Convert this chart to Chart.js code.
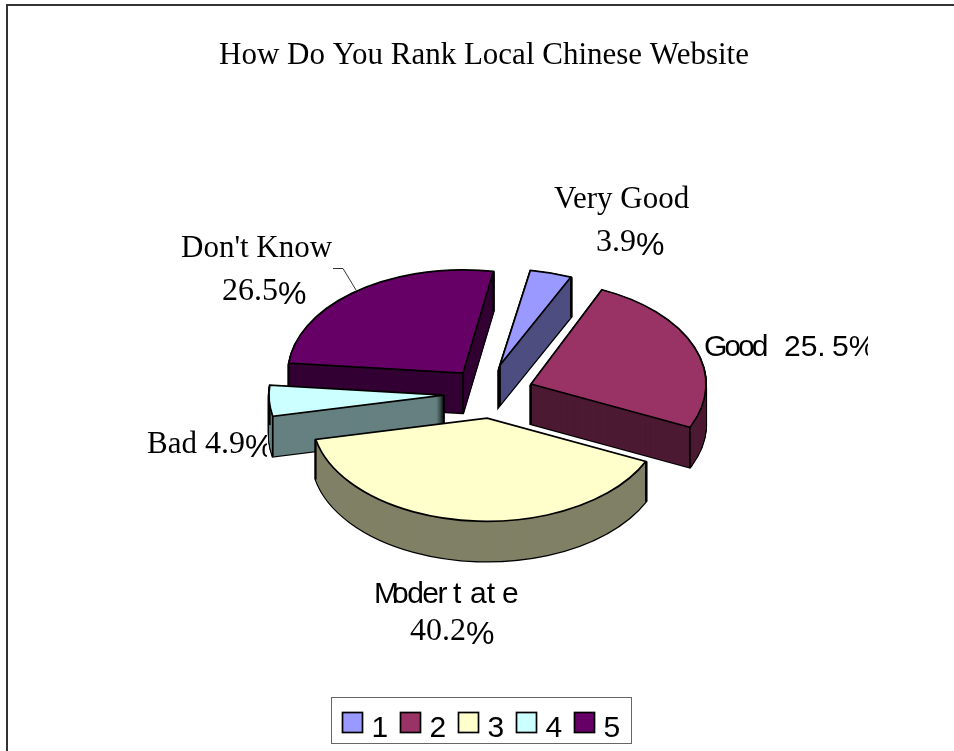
<!DOCTYPE html>
<html>
<head>
<meta charset="utf-8">
<style>
  html, body { margin: 0; padding: 0; background: #fff; }
  #chart-1 { display: block; }
</style>
<script src="https://cdn.jsdelivr.net/npm/chart.js@4/dist/chart.umd.min.js"></script>
</head>
<body>
<canvas id="chart-1" width="954" height="751"></canvas>
<script>
/************************ chart data *********************************/

const legendLabels = ["1", "2", "3", "4", "5"];
const shares = [3.9, 25.5, 40.2, 4.9, 26.5];
const topColors = ["#9999ff", "#993366", "#ffffcc", "#ccffff", "#660066"];
const wallColors = ["#4d4d80", "#4d1a33", "#808066", "#668080", "#330033"];
const chartTitle = "How Do You Rank Local Chinese Website";

/************************ 3D look of the pie *********************************/

const tilt = [0.55, 0.59, 0.59, 0.59, 0.59];
const DEPTH = 40;
const shift = [[16, -31], [47, -12], [3, 22], [-40, -1], [-21, -23]]; // exploded slices
const paintOrder = [0, 4, 1, 3, 2]; // back slices first

const SERIF = '"Liberation Serif", serif';
const SANS = '"Liberation Sans", sans-serif';

// slice labels, a few are spaced out by hand: [text, x, y, letter spacing]
const sliceLabels = [
  { font: SERIF, size: 31, value: [shares[0], 630, 251], parts: [["Very Good", 554, 208]] },
  { font: SANS, size: 30, clip: 868, parts: [["Good", 704, 356, -3], ["25.", 784, 356], ["5%", 832, 356]] },
  { font: SANS, size: 30, value: [shares[2], 452, 640],
    parts: [["M", 374, 603], ["oder", 392, 603, -1.5], ["t", 453, 603], ["at", 470, 603], ["e", 502, 603]] },
  { font: SERIF, size: 31, clip: 267, value: [shares[3], 239, 453], parts: [["Bad", 147, 453]] },
  { font: SERIF, size: 31, value: [shares[4], 264, 300], parts: [["Don't Know", 181, 257]] },
];

function slicePath(ctx, arc) {
  ctx.beginPath();
  ctx.moveTo(arc.x, arc.y);
  ctx.arc(arc.x, arc.y, arc.outerRadius, arc.startAngle, arc.endAngle);
  ctx.closePath();
}

// moves the drawing to the exploded, flattened slice
function placeSlice(ctx, arc, i, drop) {
  ctx.translate(arc.x + shift[i][0], arc.y + shift[i][1] + drop);
  ctx.scale(1, tilt[i]);
  ctx.translate(-arc.x, -arc.y);
}

function drawWall(ctx, arc, i) {
  // black silhouette first, the wall colour goes over it
  for (let d = DEPTH; d >= 1; d--) {
    ctx.save();
    placeSlice(ctx, arc, i, d);
    slicePath(ctx, arc);
    ctx.restore();
    ctx.lineWidth = 2.4;
    ctx.strokeStyle = "#000";
    ctx.stroke();
  }
  for (let d = DEPTH; d >= 0; d--) {
    ctx.save();
    placeSlice(ctx, arc, i, d);
    slicePath(ctx, arc);
    ctx.fillStyle = wallColors[i];
    ctx.fill();
    ctx.restore();
  }
  // upright edges at the three corners
  const r = arc.outerRadius;
  const corners = [[0, 0],
    [Math.cos(arc.startAngle) * r, Math.sin(arc.startAngle) * r * tilt[i]],
    [Math.cos(arc.endAngle) * r, Math.sin(arc.endAngle) * r * tilt[i]]];
  ctx.lineWidth = 1.7;
  ctx.strokeStyle = "#000";
  corners.forEach(function (c) {
    ctx.beginPath();
    ctx.moveTo(arc.x + shift[i][0] + c[0], arc.y + shift[i][1] + c[1]);
    ctx.lineTo(arc.x + shift[i][0] + c[0], arc.y + shift[i][1] + c[1] + DEPTH);
    ctx.stroke();
  });
}

function drawTop(ctx, arc, i) {
  ctx.save();
  placeSlice(ctx, arc, i, 0);
  arc.draw(ctx); // the library's own arc element
  slicePath(ctx, arc);
  ctx.restore();
  ctx.lineWidth = 1.7;
  ctx.strokeStyle = "#000";
  ctx.stroke();
}

function drawSliceLabel(ctx, label) {
  ctx.save();
  if (label.clip) {
    ctx.beginPath();
    ctx.rect(0, 0, label.clip, 751);
    ctx.clip();
  }
  ctx.font = label.size + "px " + label.font;
  ctx.textAlign = "left";
  label.parts.forEach(function (p) {
    ctx.letterSpacing = (p[3] || 0) + "px";
    ctx.fillText(p[0], p[1], p[2]);
  });
  ctx.letterSpacing = "0px";
  if (label.value) {
    // the percent sign is wider and hangs a little under the digits
    const text = label.value[0].toFixed(1);
    ctx.font = "32px " + SERIF;
    const w = ctx.measureText(text).width;
    const left = label.value[1] - (w + 28) / 2;
    ctx.fillText(text, left, label.value[2]);
    ctx.font = "32px " + SANS;
    ctx.fillText("%", left + w, label.value[2] + 4);
  }
  ctx.restore();
}

const pie3d = {
  id: "pie3d",
  beforeDatasetsDraw(chart) {
    const ctx = chart.ctx;
    const arcs = chart.getDatasetMeta(0).data;
    paintOrder.forEach(function (i) {
      drawWall(ctx, arcs[i], i);
      drawTop(ctx, arcs[i], i);
    });
    return false;
  },
  afterDraw(chart) {
    const ctx = chart.ctx;
    // outer frame of the chart
    ctx.strokeStyle = "#333";
    ctx.lineWidth = 2;
    ctx.beginPath();
    ctx.moveTo(7, 751);
    ctx.lineTo(7, 5);
    ctx.lineTo(954, 5);
    ctx.stroke();

    // leader line of the last slice
    ctx.strokeStyle = "#333";
    ctx.lineWidth = 1;
    ctx.beginPath();
    ctx.moveTo(333, 268.5);
    ctx.lineTo(343, 268.5);
    ctx.lineTo(356, 290);
    ctx.stroke();

    ctx.fillStyle = "#000";
    ctx.textBaseline = "alphabetic";
    sliceLabels.forEach(function (label) {
      drawSliceLabel(ctx, label);
    });

    // legend box
    ctx.fillStyle = "#fff";
    ctx.strokeStyle = "#666";
    ctx.lineWidth = 1;
    ctx.fillRect(331.5, 697.5, 300, 46);
    ctx.strokeRect(331.5, 697.5, 300, 46);
    ctx.font = "30px " + SANS;
    legendLabels.forEach(function (name, i) {
      const x = 342.5 + i * 58;
      ctx.fillStyle = topColors[i];
      ctx.fillRect(x, 712.5, 20, 20);
      ctx.strokeStyle = "#000";
      ctx.lineWidth = 1.7;
      ctx.strokeRect(x, 712.5, 20, 20);
      ctx.fillStyle = "#000";
      ctx.textAlign = "left";
      ctx.fillText(name, x + 29, 737);
    });
  },
};

/************************ the chart *********************************/

const ctx1 = document.getElementById("chart-1").getContext("2d");
const myChart1 = new Chart(ctx1, {
  type: "pie",
  data: {
    labels: legendLabels,
    datasets: [
      {
        data: shares,
        backgroundColor: topColors,
        borderWidth: 0,
      },
    ],
  },
  options: {
    responsive: false,
    animation: false,
    rotation: 10,
    radius: 175,
    layout: {
      padding: { left: 14, top: 37, bottom: 33 },
    },
    plugins: {
      legend: { display: false },
      tooltip: { enabled: false },
      title: {
        display: true,
        text: chartTitle,
        color: "#000",
        font: { family: "Liberation Serif", size: 31, weight: "normal" },
        padding: { top: 0, bottom: 0 },
      },
    },
  },
  plugins: [pie3d],
});
</script>
</body>
</html>
